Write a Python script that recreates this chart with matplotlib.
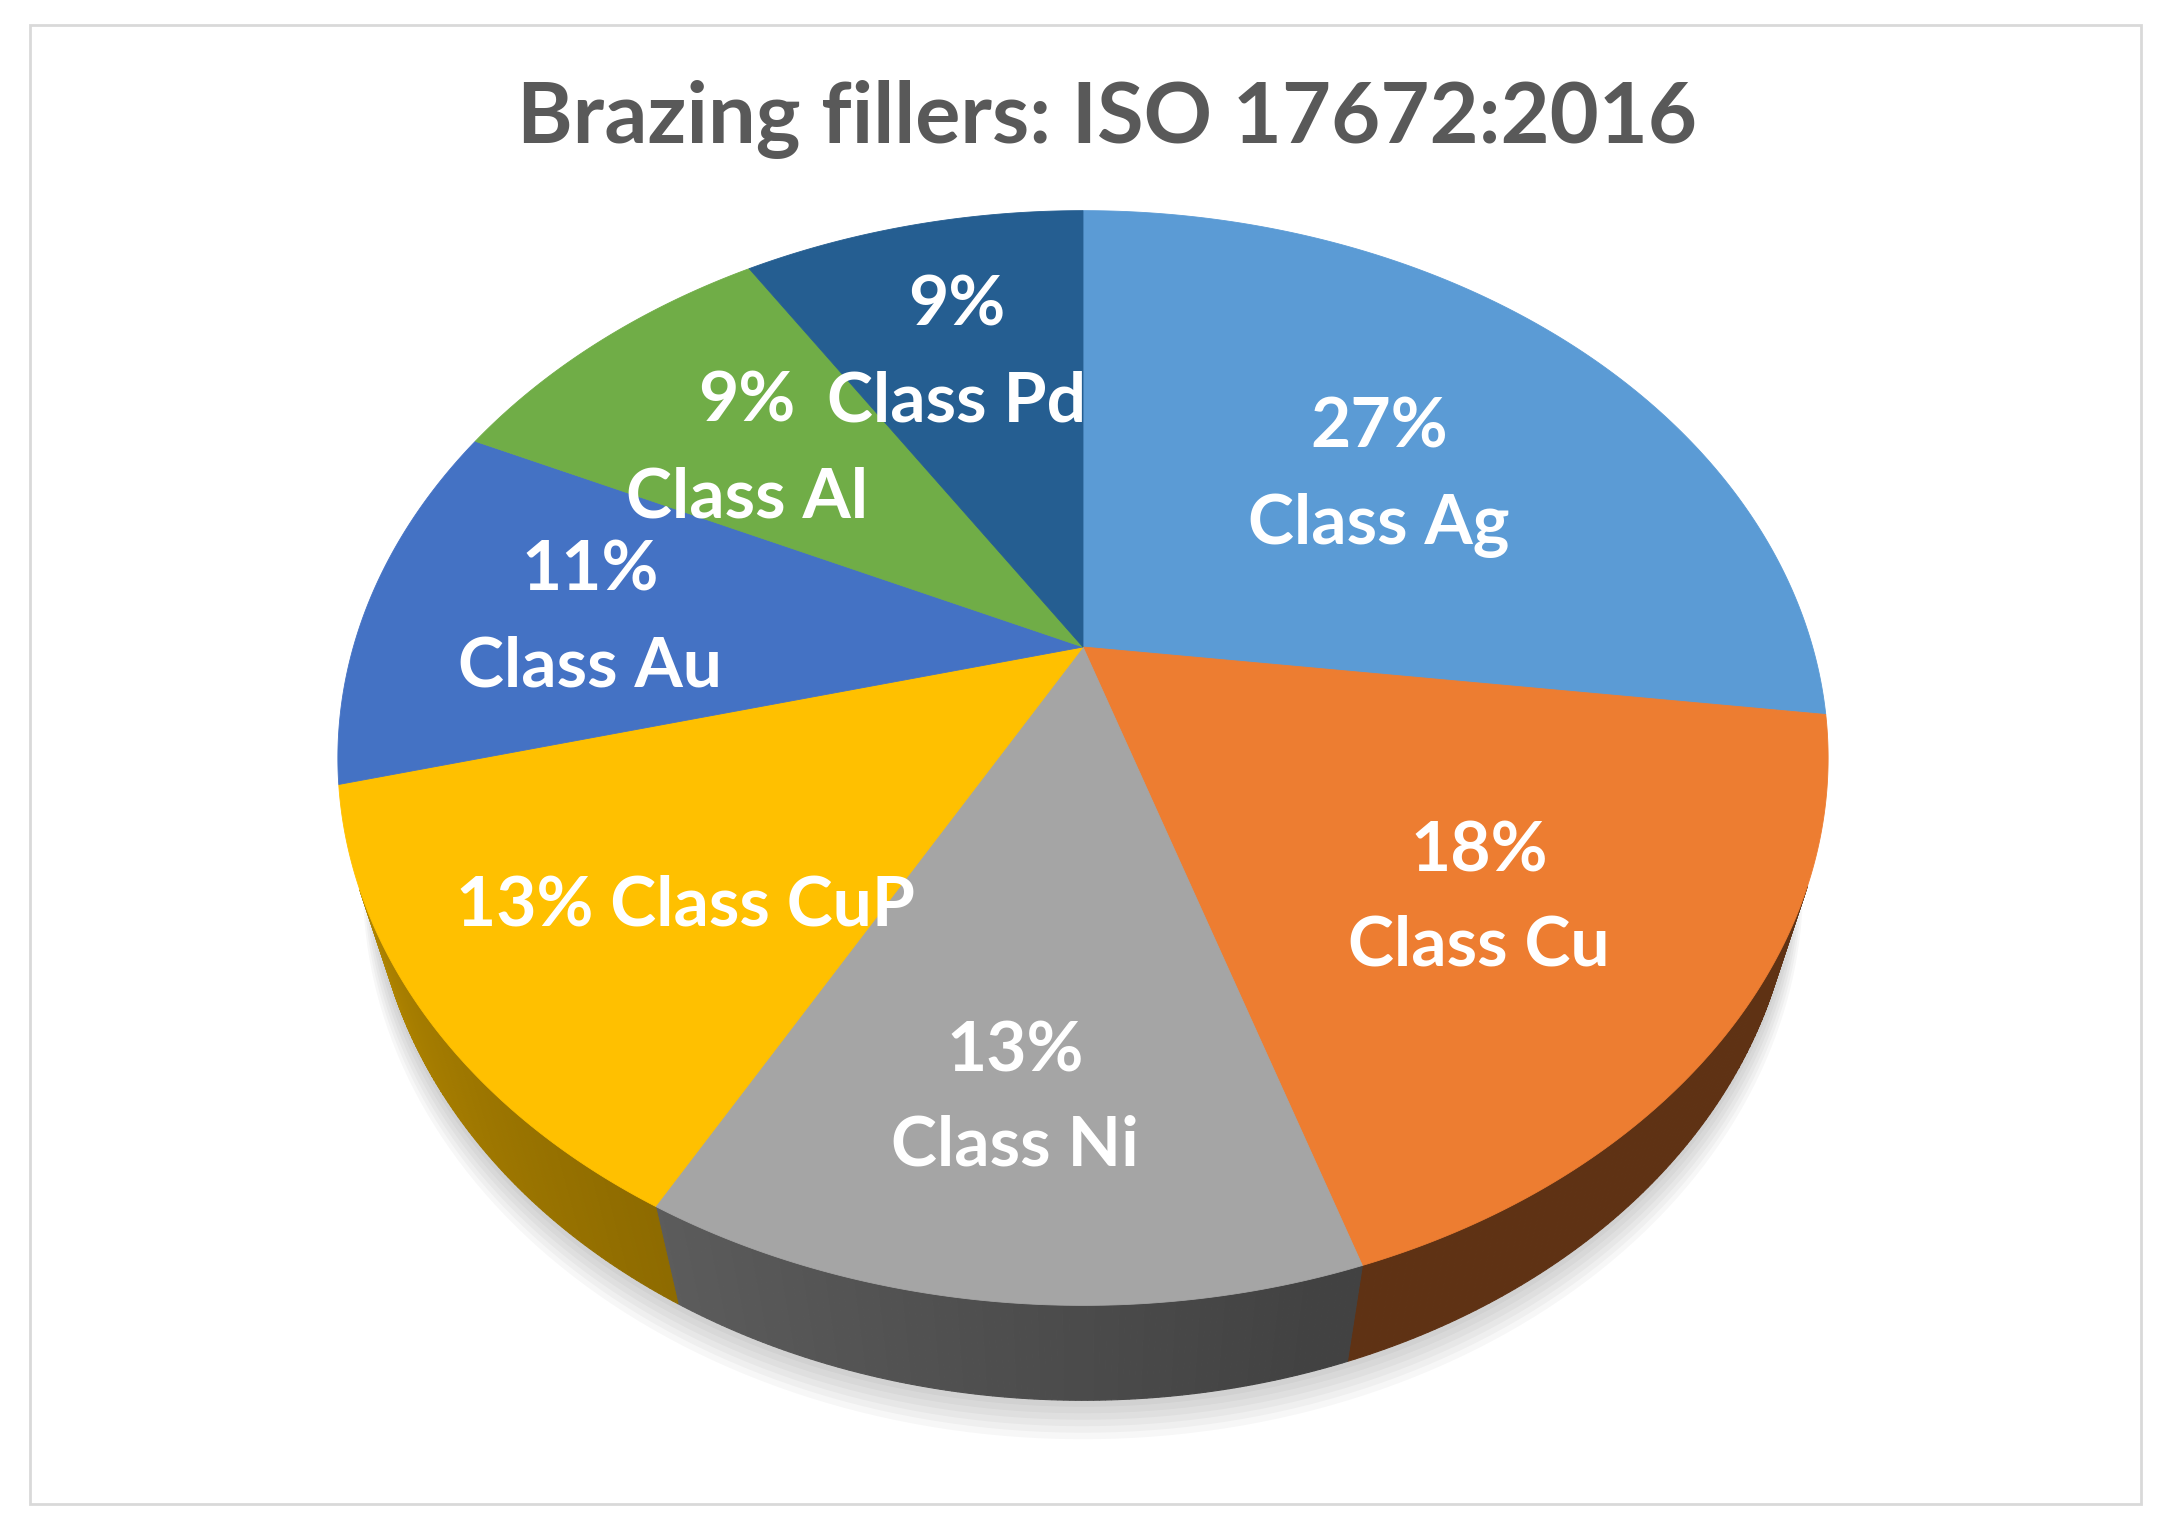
import numpy as np
import matplotlib.pyplot as plt
from matplotlib.patches import Polygon, Rectangle
import matplotlib.colors as mcolors

plt.rcParams['font.family'] = ['Lato', 'DejaVu Sans']

# data
classes = ["Class Ag", "Class Cu", "Class Ni", "Class CuP", "Class Au", "Class Al", "Class Pd"]
shares = [27, 18, 13, 13, 11, 9, 9]
colors = ["#5B9BD5", "#ED7D31", "#A5A5A5", "#FFC000", "#4472C4", "#70AD47", "#255E91"]
title = "Brazing fillers: ISO 17672:2016"

# label layout in pixels: (x centre, baseline) for the percent line and the name line
label_pos = {
    "Class Ag": [(1379, 447), (1379, 544)],
    "Class Cu": [(1479, 871), (1479, 966)],
    "Class Ni": [(1015, 1072), (1015, 1166)],
    "Class CuP": [(686, 925)],           # one line
    "Class Au": [(590, 591), (590, 687)],
    "Class Al": [(747, 421), (747, 517)],
    "Class Pd": [(957, 325), (957, 422)],
}

W, H = 2177, 1533
CX, CY = 1083, 647      # pie centre in pixels
ELEV = np.radians(46)   # camera elevation
DIST = 3.425            # camera distance (pie radius = 1)
THICK = 0.217           # pie thickness
SCALE = 2499            # pixels per projected unit


def project(x, y, z=0.0):
    c, s = np.cos(ELEV), np.sin(ELEV)
    vy = y + DIST * c
    vz = z - DIST * s
    depth = c * vy - s * vz
    up = s * vy + c * vz
    return x / depth, up / depth


def side_shade(t):
    # lighter on the left front, darker to the right
    return np.interp(t, [-160, -120, -75, -20], [0.70, 0.56, 0.40, 0.40])


fig = plt.figure(figsize=(W / 100, H / 100), dpi=100)
ax = fig.add_axes([0, 0, 1, 1])
ax.set_xlim(-CX / SCALE, (W - CX) / SCALE)
ax.set_ylim(-(H - CY) / SCALE, CY / SCALE)
ax.axis('off')

# frame
fig.patches.append(Rectangle((30 / W, 1 - 1504 / H), (2141 - 30) / W, (1504 - 25) / H,
                             transform=fig.transFigure, fill=False,
                             edgecolor='#d9d9d9', lw=2))

# soft shadow under the pie
tt = np.linspace(0, 2 * np.pi, 300)
for k in range(7):
    r = 1.0 + 0.002 * k
    px, py = project(r * np.cos(tt), r * np.sin(tt) - 0.004 * k, -THICK - 0.004 * k)
    ax.add_patch(Polygon(np.column_stack([px, py]), closed=True, facecolor='#000000',
                         edgecolor='none', alpha=0.03, zorder=0))

# slice boundaries (clockwise from 12 o'clock)
bounds = 90 - 3.6 * np.concatenate([[0], np.cumsum(shares)])
vis_limit = -1.0 / (DIST * np.cos(ELEV))

# side walls
for i in range(len(shares)):
    a0, a1 = bounds[i], bounds[i + 1]
    steps = np.linspace(a0, a1, 120)
    base = np.array(mcolors.to_rgb(colors[i]))
    for j in range(len(steps) - 1):
        tm = np.radians((steps[j] + steps[j + 1]) / 2)
        if np.sin(tm) >= vis_limit:
            continue
        ta, tb = np.radians(steps[j]), np.radians(steps[j + 1])
        xa, ya = np.cos(ta), np.sin(ta)
        xb, yb = np.cos(tb), np.sin(tb)
        pts = [project(xa, ya, 0), project(xb, yb, 0),
               project(xb, yb, -THICK), project(xa, ya, -THICK)]
        deg = (np.degrees(tm) + 180) % 360 - 180
        col = np.clip(base * side_shade(deg), 0, 1)
        ax.add_patch(Polygon(pts, closed=True, facecolor=col, edgecolor=col,
                             lw=0.8, zorder=1))

# top face
apex = project(0.0, 0.0)
for i in range(len(shares)):
    t = np.radians(np.linspace(bounds[i], bounds[i + 1], 200))
    px, py = project(np.cos(t), np.sin(t))
    pts = np.vstack([[apex], np.column_stack([px, py])])
    ax.add_patch(Polygon(pts, closed=True, facecolor=colors[i], edgecolor=colors[i],
                         lw=0.6, zorder=2))

# labels
for name, val in zip(classes, shares):
    pos = label_pos[name]
    if len(pos) == 1:
        lines = [f"{val}% {name}"]
    else:
        lines = [f"{val}%", name]
    for txt, (lx, ly) in zip(lines, pos):
        fig.text(lx / W, 1 - ly / H, txt, ha='center', va='baseline', color='white',
                 fontsize=50, fontweight='bold')

fig.text(1107 / W, 1 - 142 / H, title, ha='center', va='baseline', color='#595959',
         fontsize=61, fontweight='bold')

fig.savefig("out.png", dpi=100, facecolor='white')
